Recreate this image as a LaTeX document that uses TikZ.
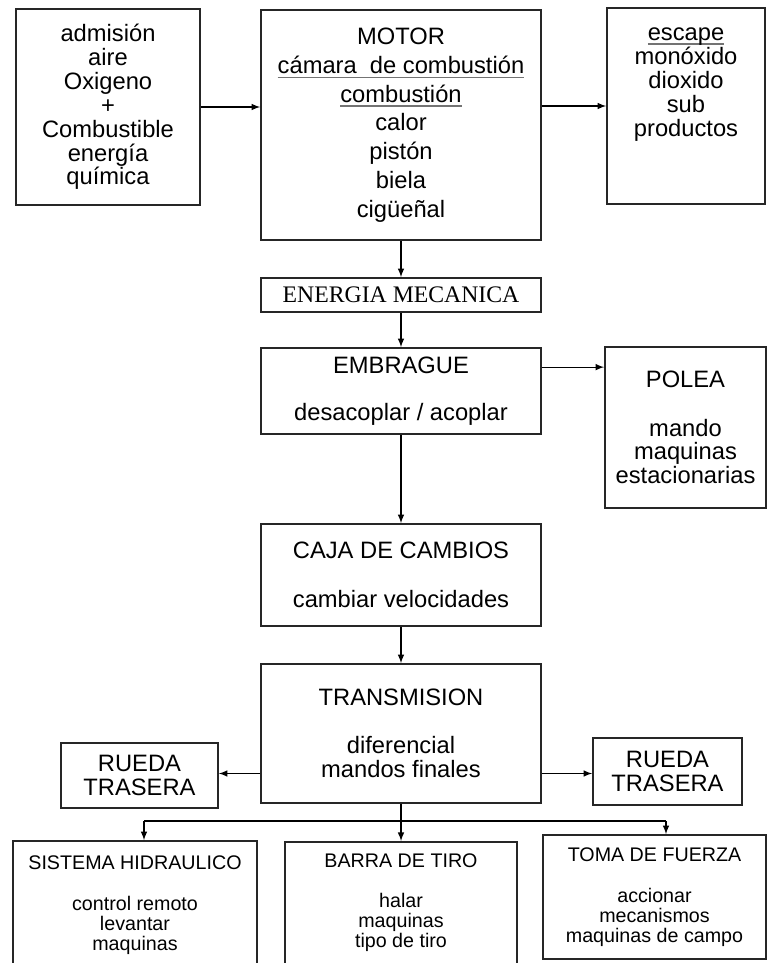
\documentclass[tikz,border=0pt]{standalone}
\usepackage{fontspec}
\setmainfont{Liberation Sans}
\newfontfamily\serifa{Liberation Serif}
\usetikzlibrary{arrows}
\newcommand{\rayado}[2][3pt]{\setbox0=\hbox{#2}\rlap{\textcolor{black!55}{\rule[-#1]{\wd0}{1.1pt}}}\box0}

\begin{document}
\begin{tikzpicture}
		[x=0.02cm,y=-0.02cm,
		 bloque/.style={rectangle,draw=black!85,line width=1pt,align=center,inner sep=0pt,
		   font=\fontsize{13.5}{13.6}\selectfont},
		 inferior/.style={bloque,font=\fontsize{11.2}{11.3}\selectfont},
		 flujo/.style={->,>=latex,line width=0.7pt}]

		\useasboundingbox (0,0) rectangle (767,963);
		\clip (0,0) rectangle (767,963);
		\fill[white] (0,0) rectangle (767,963);

		\node[bloque,minimum width=3.68cm,minimum height=3.92cm] (admision) at (108,107)
			{admisión\\aire\\Oxigeno\\+\\Combustible\\energía\\química};
		\node[bloque,minimum width=5.6cm,minimum height=4.6cm,font=\fontsize{13.5}{16.4}\selectfont] (motor) at (401,125)
			{MOTOR\\\rayado{cámara\ \ de combustión}\\\rayado{combustión}\\calor\\pistón\\biela\\cigüeñal};
		\node[bloque,minimum width=3.16cm,minimum height=3.92cm] (escape) at (686,106)
			{\rayado[2.5pt]{escape}\\monóxido\\dioxido\\sub\\productos\\~\\~};
		\draw[flujo] (admision.east) -- (admision.east -| motor.west);
		\draw[flujo] (escape.west -| motor.east) -- (escape.west);

		\node[bloque,minimum width=5.6cm,minimum height=0.68cm,font=\serifa\fontsize{13.5}{14}\selectfont] (energia) at (401,295) {ENERGIA MECANICA};
		\draw[flujo] (motor.south) -- (energia.north);

		\node[bloque,minimum width=5.6cm,minimum height=1.72cm] (embrague) at (401,391) {EMBRAGUE\\[13pt]desacoplar / acoplar};
		\node[bloque,minimum width=3.22cm,minimum height=3.22cm] (polea) at (685.5,427.5) {POLEA\\[14pt]mando\\maquinas\\estacionarias};
		\draw[flujo] (energia.south) -- (embrague.north);
		\draw[flujo] ([yshift=-0.4cm]embrague.north east) -- ([yshift=-0.4cm]embrague.north east -| polea.west);

		\node[bloque,minimum width=5.6cm,minimum height=2.04cm] (cambios) at (401,575) {CAJA DE CAMBIOS\\[14pt]cambiar velocidades};
		\draw[flujo] (embrague.south) -- (cambios.north);

		\node[bloque,minimum width=5.6cm,minimum height=2.78cm] (transmision) at (401,733.5) {TRANSMISION\\[14pt]diferencial\\mandos finales};
		\draw[flujo] (cambios.south) -- (transmision.north);

		\node[bloque,minimum width=3.14cm,minimum height=1.3cm] (ruedaizq) at (139.5,775.5) {RUEDA\\TRASERA};
		\node[bloque,minimum width=2.98cm,minimum height=1.34cm] (ruedader) at (667.5,771.5) {RUEDA\\TRASERA};
		\draw[flujo] ([yshift=-0.8cm]transmision.west) -- ([yshift=-0.8cm]transmision.west -| ruedaizq.east);
		\draw[flujo] ([yshift=-0.8cm]transmision.east) -- ([yshift=-0.8cm]transmision.east -| ruedader.west);

		\node[inferior,minimum width=4.88cm,minimum height=2.88cm] (hidraulico) at (135,913)
			{SISTEMA HIDRAULICO\\[11.9pt]control remoto\\levantar\\maquinas\\~};
		\node[inferior,minimum width=4.64cm,minimum height=2.74cm] (barra) at (401,910.4)
			{BARRA DE TIRO\\[11.9pt]halar\\maquinas\\tipo de tiro\\~};
		\node[inferior,minimum width=4.46cm,minimum height=2.48cm] (toma) at (654.5,897)
			{TOMA DE FUERZA\\[11.9pt]accionar\\mecanismos\\maquinas de campo};

		\coordinate (busizq) at (144,821);
		\coordinate (busder) at (666,821);
		\draw[line width=0.7pt] (busizq) -- (busder);
		\draw[flujo] (transmision.south) -- (barra.north);
		\draw[flujo] (busizq) -- (busizq |- hidraulico.north);
		\draw[flujo] (busder) -- (busder |- toma.north);
	\end{tikzpicture}
\end{document}
